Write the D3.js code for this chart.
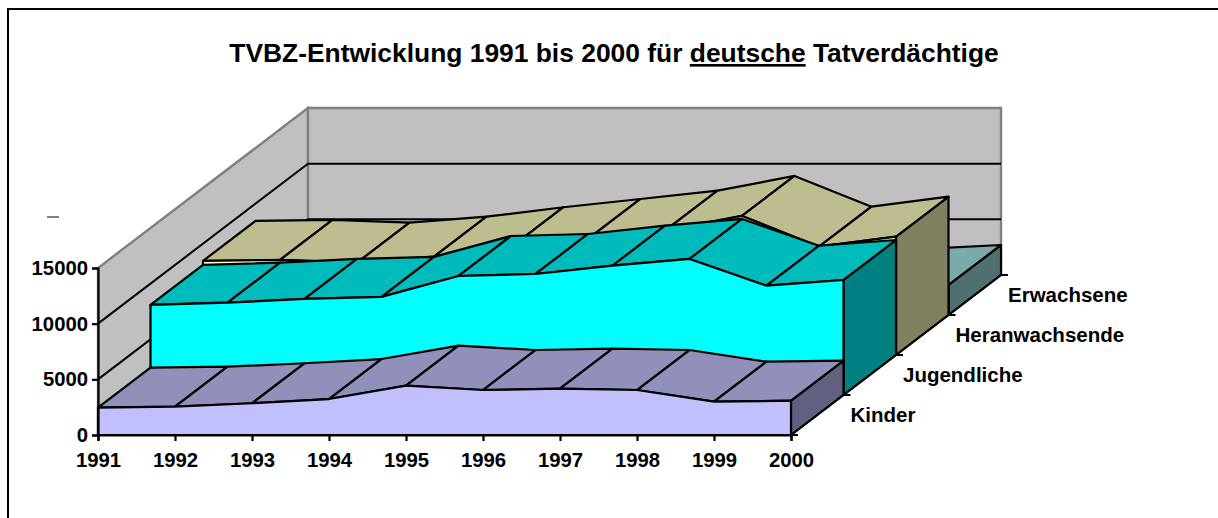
<!DOCTYPE html>
<html>
<head>
<meta charset="utf-8">
<script src="https://cdn.jsdelivr.net/npm/d3@7"></script>
<style>
  html, body { margin: 0; padding: 0; background: #fff; }
  svg { display: block; }
  text { font-family: "Liberation Sans", Arial, sans-serif; font-weight: bold; fill: #000; }
</style>
</head>
<body>
<div id="chart"></div>
<script>
const years = [1991, 1992, 1993, 1994, 1995, 1996, 1997, 1998, 1999, 2000];
const seriesNames = ["Kinder", "Jugendliche", "Heranwachsende", "Erwachsene"];
const valueTicks = [0, 5000, 10000, 15000];

const kinder = [2450, 2540, 2850, 3230, 4430, 4040, 4160, 4040, 2990, 3080];
const jugendliche = [8090, 8290, 8630, 8810, 10690, 10870, 11620, 12220, 9820, 10330];
const heranwachsende = [8450, 8540, 8290, 8830, 9680, 10420, 11170, 12490, 9730, 10630];
const erwachsene = [2100, 2150, 2100, 2200, 2300, 2350, 2400, 2450, 2340, 2695];
const seriesValues = [kinder, jugendliche, heranwachsende, erwachsene];

const frontColors = ["#c0c0ff", "#00ffff", "#ffffc0", "#a0e0e0"];
const topColors = ["#9090bb", "#00bbbb", "#bdbd8f", "#7aaaaa"];
const sideColors = ["#606080", "#008080", "#808060", "#507070"];

const width = 1218, height = 518;

const svg = d3.select("#chart").append("svg")
  .attr("width", width)
  .attr("height", height);

// outer frame: only left and top show in the picture
svg.append("path")
  .attr("d", `M8,${height} V9 H${width}`)
  .attr("fill", "none")
  .attr("stroke", "#000")
  .attr("stroke-width", 2);

const title = svg.append("text")
  .attr("x", 614)
  .attr("y", 62)
  .attr("text-anchor", "middle")
  .style("font-size", "26.4px");
title.append("tspan").text("TVBZ-Entwicklung 1991 bis 2000 für ");
title.append("tspan").style("text-decoration", "underline").text("deutsche");
title.append("tspan").text(" Tatverdächtige");

const x = d3.scaleLinear().domain([1991, 2000]).range([98, 791]);
const y = d3.scaleLinear().domain([0, 15000]).range([435, 268]);
const depthX = d3.scaleLinear().domain([0, 4]).range([0, 210]);
const depthY = d3.scaleLinear().domain([0, 4]).range([0, -160]);

// year, value, depth -> screen point
const pt = (year, value, depth) => [x(year) + depthX(depth), y(value) + depthY(depth)];
const poly = d3.line();

// walls
const maxV = d3.max(valueTicks);
svg.append("path")
  .attr("d", poly([pt(1991, 0, 0), pt(1991, maxV, 0), pt(1991, maxV, 4), pt(1991, 0, 4)]) + "Z")
  .attr("fill", "#c0c0c0").attr("stroke", "#808080").attr("stroke-width", 2.4);
svg.append("path")
  .attr("d", poly([pt(1991, 0, 4), pt(1991, maxV, 4), pt(2000, maxV, 4), pt(2000, 0, 4)]) + "Z")
  .attr("fill", "#c0c0c0").attr("stroke", "#808080").attr("stroke-width", 2.4);
svg.append("path")
  .attr("d", poly([pt(1991, 0, 0), pt(2000, 0, 0), pt(2000, 0, 4), pt(1991, 0, 4)]) + "Z")
  .attr("fill", "#c0c0c0");

// gridlines on both walls
svg.append("g").selectAll("path")
  .data(valueTicks.filter(d => d > 0 && d < maxV))
  .enter().append("path")
  .attr("d", d => poly([pt(1991, d, 0), pt(1991, d, 4), pt(2000, d, 4)]))
  .attr("fill", "none").attr("stroke", "#000").attr("stroke-width", 2);

// series drawn from back to front
const stroke = (sel) => sel.attr("stroke", "#000").attr("stroke-width", 2.2).attr("stroke-linejoin", "round");

d3.range(seriesNames.length - 1, -1, -1).forEach(i => {
  const values = seriesValues[i];
  const g = svg.append("g");
  const last = years.length - 1;

  g.append("path")
    .attr("d", poly([pt(2000, 0, i), pt(2000, values[last], i), pt(2000, values[last], i + 1), pt(2000, 0, i + 1)]) + "Z")
    .attr("fill", sideColors[i])
    .call(stroke);

  g.selectAll(".top")
    .data(d3.range(last))
    .enter().append("path")
    .attr("class", "top")
    .attr("d", k => poly([
      pt(years[k], values[k], i),
      pt(years[k + 1], values[k + 1], i),
      pt(years[k + 1], values[k + 1], i + 1),
      pt(years[k], values[k], i + 1)
    ]) + "Z")
    .attr("fill", topColors[i])
    .call(stroke);

  const front = years.map((yr, k) => pt(yr, values[k], i));
  g.append("path")
    .attr("d", poly([pt(1991, 0, i), ...front, pt(2000, 0, i)]) + "Z")
    .attr("fill", frontColors[i])
    .call(stroke);
});

// axes
const yearAxis = svg.append("g")
  .attr("transform", "translate(0,435)")
  .call(d3.axisBottom(x).tickValues(years).tickFormat(d3.format("d")).tickSize(6).tickPadding(12));
const valueAxis = svg.append("g")
  .attr("transform", "translate(98,0)")
  .call(d3.axisLeft(y).tickValues(valueTicks).tickFormat(d3.format("d")).tickSize(6).tickPadding(4));
[yearAxis, valueAxis].forEach(a => {
  a.attr("font-family", null).attr("font-size", null);
  a.selectAll("text").style("font-size", "20.3px");
  a.selectAll("path, line").attr("stroke", "#000").attr("stroke-width", 2.2);
});

// depth axis
svg.append("path")
  .attr("d", poly([pt(2000, 0, 0), pt(2000, 0, 4)]))
  .attr("stroke", "#000").attr("stroke-width", 2.2);
svg.append("g").selectAll("line")
  .data(d3.range(0, 5))
  .enter().append("line")
  .attr("x1", d => pt(2000, 0, d)[0])
  .attr("x2", d => pt(2000, 0, d)[0] + 7)
  .attr("y1", d => pt(2000, 0, d)[1])
  .attr("y2", d => pt(2000, 0, d)[1])
  .attr("stroke", "#000").attr("stroke-width", 2);
svg.append("g").selectAll("text")
  .data(seriesNames)
  .enter().append("text")
  .attr("x", (d, i) => pt(2000, 0, i + 1)[0] + 7)
  .attr("y", (d, i) => pt(2000, 0, i + 1)[1] + 27)
  .style("font-size", "20.5px")
  .text(d => d);

// stray dash left of the left wall
svg.append("line")
  .attr("x1", 47).attr("x2", 59)
  .attr("y1", 217).attr("y2", 217)
  .attr("stroke", "#000").attr("stroke-width", 1);
</script>
</body>
</html>
